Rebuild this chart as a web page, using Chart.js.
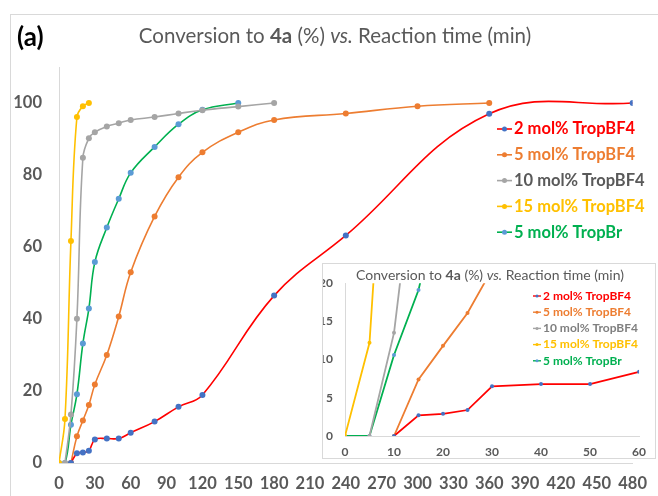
<!DOCTYPE html>
<html>
<head>
<meta charset="utf-8">
<script src="https://cdn.jsdelivr.net/npm/chart.js@4.4.1/dist/chart.umd.min.js"></script>
<style>
  html, body { margin: 0; padding: 0; background: #fff; }
  #wrap { position: relative; width: 658px; height: 496px; overflow: hidden; }
  #frame { position: absolute; left: 10px; top: 14px; width: 660px; height: 500px; border: 1px solid #d9d9d9; }
  #main { position: absolute; left: 0; top: 0; }
  #insetBox { position: absolute; left: 322px; top: 263px; width: 332px; height: 194px;
              border: 1px solid #d9d9d9; background: #fff; }
  #inset { position: absolute; left: 0; top: 0; }
</style>
</head>
<body>
<div id="wrap">
  <div id="frame"></div>
  <canvas id="main" width="658" height="496"></canvas>
  <div id="insetBox"><canvas id="inset" width="332" height="194"></canvas></div>
</div>
<script>
// series labels
const seriesNames = ["2 mol% TropBF4", "5 mol% TropBF4", "10 mol% TropBF4", "15 mol% TropBF4", "5 mol% TropBr"];

// reaction time (min) and conversion (%) per series
const time2 = [10, 15, 20, 25, 30, 40, 50, 60, 80, 100, 120, 180, 240, 360, 480];
const conv2 = [0, 2.7, 2.9, 3.4, 6.5, 6.8, 6.8, 8.4, 11.5, 15.6, 18.9, 46.5, 63.2, 97, 100];

const time5 = [10, 15, 20, 25, 30, 40, 50, 60, 80, 100, 120, 150, 180, 240, 300, 360];
const conv5 = [0, 7.4, 11.8, 16.1, 21.8, 30, 40.7, 53, 68.5, 79.4, 86.3, 91.9, 95.3, 97.1, 99.1, 100];

const time10 = [5, 10, 15, 20, 25, 30, 40, 50, 60, 80, 100, 120, 150, 180];
const conv10 = [0, 13.5, 40.1, 84.8, 90.2, 91.9, 93.5, 94.4, 95.3, 96.1, 97.1, 98, 99, 100];

const time15 = [0, 5, 10, 15, 20, 25];
const conv15 = [0, 12.2, 61.7, 96.1, 99.1, 100];

const timeBr = [0, 5, 10, 15, 20, 25, 30, 40, 50, 60, 80, 100, 120, 150];
const convBr = [0, 0, 10.6, 19.1, 33.2, 42.9, 55.8, 65.4, 73.4, 80.6, 87.8, 94.1, 98.1, 100];

// tick labels
const mainXTicks = [0, 30, 60, 90, 120, 150, 180, 210, 240, 270, 300, 330, 360, 390, 420, 450, 480];
const mainYTicks = [0, 20, 40, 60, 80, 100];
const insetXTicks = [0, 10, 20, 30, 40, 50, 60];
const insetYTicks = [0, 5, 10, 15, 20];

const lineColors = ["#ff0000", "#ed7d31", "#a5a5a5", "#ffc000", "#00b050"];
const markColors = ["#4472c4", "#ed7d31", "#a5a5a5", "#ffc000", "#5b9bd5"];
const textColors = ["#ff0000", "#ed7d31", "#595959", "#ffc000", "#00b050"];
const insetTextColors = ["#ff0000", "#ed7d31", "#7f7f7f", "#ffc000", "#00b050"];

const FONT = "Lato, 'Open Sans', sans-serif";
const times = [time2, time5, time10, time15, timeBr];
const convs = [conv2, conv5, conv10, conv15, convBr];

function makeDatasets(tension, lw, r) {
  return seriesNames.map((name, i) => ({
    label: name,
    data: times[i].map((t, j) => ({ x: t, y: convs[i][j] })),
    borderColor: lineColors[i],
    backgroundColor: markColors[i],
    pointBackgroundColor: markColors[i],
    pointBorderColor: markColors[i],
    pointRadius: r,
    pointBorderWidth: 0,
    borderWidth: lw,
    tension: tension
  }));
}

// title with mixed styles + custom legend
const decoPlugin = {
  id: "deco",
  afterDraw(chart, args, o) {
    const ctx = chart.ctx;
    ctx.save();
    ctx.textBaseline = "middle";
    if (o.tag) {
      ctx.font = "bold " + o.tagSize + "px " + FONT;
      ctx.fillStyle = "#000";
      ctx.textAlign = "left";
      ctx.fillText(o.tag, o.tagX, o.tagY);
    }
    const runs = [["Conversion to ", ""], ["4a", "bold "], [" (%) ", ""], ["vs.", "italic "], [" Reaction time (min)", ""]];
    let total = 0;
    runs.forEach(r => { ctx.font = r[1] + o.titleSize + "px " + FONT; total += ctx.measureText(r[0]).width; });
    let x = o.titleX - total / 2;
    ctx.fillStyle = "#595959";
    ctx.textAlign = "left";
    runs.forEach(r => {
      ctx.font = r[1] + o.titleSize + "px " + FONT;
      ctx.fillText(r[0], x, o.titleY);
      x += ctx.measureText(r[0]).width;
    });
    ctx.font = "bold " + o.legSize + "px " + FONT;
    seriesNames.forEach((name, i) => {
      const y = o.legY + i * o.legStep;
      ctx.strokeStyle = lineColors[i];
      ctx.lineWidth = o.legLw;
      ctx.beginPath();
      ctx.moveTo(o.legX, y);
      ctx.lineTo(o.legX + o.legLen, y);
      ctx.stroke();
      ctx.fillStyle = markColors[i];
      ctx.beginPath();
      ctx.arc(o.legX + o.legLen / 2, y, o.legR, 0, Math.PI * 2);
      ctx.fill();
      ctx.fillStyle = o.legColors[i];
      ctx.fillText(name, o.legX + o.legLen + 2, y);
    });
    ctx.restore();
  }
};

function axes(xTicks, yTicks, xMax, yMax, fontSize, yW, xH, yPad, xPad) {
  const tickFont = { family: FONT, size: fontSize, weight: "bold" };
  return {
    x: {
      type: "linear", min: 0, max: xMax,
      afterBuildTicks: s => { s.ticks = xTicks.map(v => ({ value: v })); },
      afterFit: s => { s.height = xH; },
      grid: { display: false, drawTicks: false },
      border: { display: true, color: "#d9d9d9", width: 1 },
      ticks: { font: tickFont, color: "#595959", padding: xPad, maxRotation: 0, autoSkip: false }
    },
    y: {
      type: "linear", min: 0, max: yMax,
      afterBuildTicks: s => { s.ticks = yTicks.map(v => ({ value: v })); },
      afterFit: s => { s.width = yW; },
      grid: { display: false, drawTicks: false },
      border: { display: true, color: "#d9d9d9", width: 1 },
      ticks: { font: tickFont, color: "#595959", padding: yPad }
    }
  };
}

new Chart(document.getElementById("main"), {
  type: "line",
  data: { datasets: makeDatasets(0.4, 1.6, 3) },
  options: {
    responsive: false, animation: false, devicePixelRatio: 1,
    layout: { padding: { left: 0, top: 67, right: 15, bottom: 0 } },
    scales: axes(mainXTicks, mainYTicks, 480, 110, 16.5, 59, 33, 17, 11),
    plugins: {
      legend: { display: false },
      tooltip: { enabled: false },
      deco: {
        tag: "(a)", tagSize: 26, tagX: 17, tagY: 38,
        titleSize: 20.5, titleX: 335, titleY: 36,
        legX: 497, legY: 129, legStep: 25.8, legLen: 15, legR: 2.5, legLw: 1.6, legSize: 16.5,
        legColors: textColors
      }
    }
  },
  plugins: [decoPlugin]
});

new Chart(document.getElementById("inset"), {
  type: "line",
  data: { datasets: makeDatasets(0, 1.8, 2) },
  options: {
    responsive: false, animation: false, devicePixelRatio: 1,
    layout: { padding: { left: 0, top: 19, right: 7, bottom: 0 } },
    scales: axes(insetXTicks, insetYTicks, 60, 20, 12, 22, 22, 12, 9),
    plugins: {
      legend: { display: false },
      tooltip: { enabled: false },
      deco: {
        titleSize: 14, titleX: 167, titleY: 11,
        legX: 210, legY: 32, legStep: 16.2, legLen: 8, legR: 1.5, legLw: 1.4, legSize: 12,
        legColors: insetTextColors
      }
    }
  },
  plugins: [decoPlugin]
});
</script>
</body>
</html>
